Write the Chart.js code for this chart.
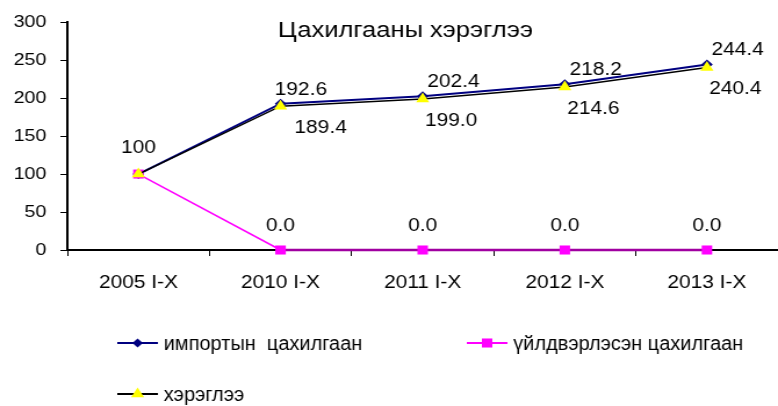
<!DOCTYPE html>
<html>
<head>
<meta charset="utf-8">
<script src="https://cdn.jsdelivr.net/npm/chart.js@4.4.1/dist/chart.umd.min.js"></script>
<style>
    html, body { margin: 0; padding: 0; background: #fff; overflow: hidden; }
    /* the chart is drawn narrow and widened to the page width */
    #chart { display: block; transform-origin: 0 0; transform: scaleX(1.1612); }
</style>
</head>
<body>
<canvas id="chart" width="670" height="406" style="width:670px;height:406px"></canvas>
<script>
// categories and series
const periods = ['2005 I-X', '2010 I-X', '2011 I-X', '2012 I-X', '2013 I-X'];
const importPower = [100, 192.6, 202.4, 218.2, 244.4];
const producedPower = [100, 0, 0, 0, 0];
const consumption = [100, 189.4, 199.0, 214.6, 240.4];
const seriesNames = ['импортын  цахилгаан', 'үйлдвэрлэсэн цахилгаан', 'хэрэглээ'];
const chartTitle = 'Цахилгааны хэрэглээ';

const FONT = '"Liberation Sans", Arial, sans-serif';

// value labels, title and legend are drawn by hand
const extrasPlugin = {
    id: 'extras',
    afterDatasetsDraw(chart) {
        const ctx = chart.ctx;
        ctx.save();
        ctx.fillStyle = '#000';
        ctx.font = '18px ' + FONT;
        ctx.textBaseline = 'middle';

        const metaImp = chart.getDatasetMeta(0);
        const metaProd = chart.getDatasetMeta(1);
        const metaCons = chart.getDatasetMeta(2);

        metaImp.data.forEach((pt, i) => {
            if (i === 0) {
                ctx.textAlign = 'center';
                ctx.fillText(String(importPower[i]), pt.x, pt.y - 26);
                return;
            }
            ctx.textAlign = 'left';
            ctx.fillText(importPower[i].toFixed(1), pt.x + (i === 1 ? -5 : 4), pt.y - 14);
        });
        metaCons.data.forEach((pt, i) => {
            if (i === 0) return;
            ctx.textAlign = 'left';
            ctx.fillText(consumption[i].toFixed(1), pt.x + (i === 1 ? 12 : 2), pt.y + 22);
        });
        metaProd.data.forEach((pt, i) => {
            if (i === 0) return;
            ctx.textAlign = 'center';
            ctx.fillText(producedPower[i].toFixed(1), pt.x, pt.y - 24);
        });

        // title sits inside the plot
        ctx.font = '22px ' + FONT;
        ctx.textAlign = 'center';
        ctx.fillText(chartTitle, 349, 31);

        // legend
        const items = [
            { x: 101, y: 343, color: '#000080', fill: '#000080', style: 'rectRot', r: 4.5 },
            { x: 402, y: 343, color: '#ff00ff', fill: '#ff00ff', style: 'rect', r: 6.4 },
            { x: 101, y: 394, color: '#000000', fill: '#ffff00', style: 'triangle', r: 6.5 }
        ];
        ctx.textAlign = 'left';
        items.forEach((it, i) => {
            ctx.strokeStyle = it.color;
            ctx.lineWidth = 2;
            ctx.beginPath();
            ctx.moveTo(it.x, it.y);
            ctx.lineTo(it.x + 35, it.y);
            ctx.stroke();
            ctx.fillStyle = it.fill;
            ctx.strokeStyle = it.fill;
            Chart.helpers.drawPoint(ctx, { pointStyle: it.style, radius: it.r, borderWidth: 0, rotation: 0 }, it.x + 17.5, it.y);
            // narrow legend lettering
            ctx.save();
            ctx.translate(it.x + 40, it.y + 1);
            ctx.scale(0.86, 1);
            ctx.fillStyle = '#000';
            ctx.font = '20px ' + FONT;
            ctx.fillText(seriesNames[i], 0, 0);
            ctx.restore();
        });
        ctx.restore();
    }
};

new Chart(document.getElementById('chart'), {
    type: 'line',
    data: {
        labels: periods,
        datasets: [
            {
                label: seriesNames[0],
                data: importPower,
                order: 2,
                borderColor: '#000080',
                backgroundColor: '#000080',
                borderWidth: 2,
                pointStyle: 'rectRot',
                pointRadius: 5,
                pointBorderWidth: 0,
                tension: 0,
                clip: false
            },
            {
                label: seriesNames[1],
                data: producedPower,
                order: 1,
                borderColor: '#ff00ff',
                backgroundColor: '#ff00ff',
                borderWidth: 1.5,
                pointStyle: 'rect',
                pointRadius: 6.4,
                pointBorderWidth: 0,
                tension: 0,
                clip: false,
                // line lying on the axis reads darker
                segment: {
                    borderColor: c => (c.p0.parsed.y === 0 && c.p1.parsed.y === 0) ? '#a000a0' : undefined,
                    borderWidth: c => (c.p0.parsed.y === 0 && c.p1.parsed.y === 0) ? 2.5 : undefined
                }
            },
            {
                label: seriesNames[2],
                data: consumption,
                order: 0,
                borderColor: '#000000',
                backgroundColor: '#ffff00',
                pointBorderColor: '#ffff00',
                borderWidth: 1.5,
                pointStyle: 'triangle',
                pointRadius: 6.5,
                pointBorderWidth: 0,
                tension: 0,
                clip: false
            }
        ]
    },
    options: {
        responsive: false,
        maintainAspectRatio: false,
        animation: false,
        devicePixelRatio: 1,
        layout: { autoPadding: false, padding: { top: 22, right: 0, left: 0, bottom: 0 } },
        plugins: {
            legend: { display: false },
            title: { display: false },
            tooltip: { enabled: false }
        },
        scales: {
            x: {
                offset: true,
                grid: { display: true, drawOnChartArea: false, drawTicks: true, tickLength: 6, color: '#000', offset: true },
                border: { display: true, color: '#000', width: 2 },
                ticks: { color: '#000', font: { family: FONT, size: 18 }, padding: 16, maxRotation: 0, autoSkip: false },
                afterFit: s => { s.height = 156; s.paddingLeft = 0; s.paddingRight = 0; }
            },
            y: {
                min: 0,
                max: 300,
                ticks: { stepSize: 50, color: '#000', font: { family: FONT, size: 17 }, padding: 12 },
                grid: { display: true, drawOnChartArea: false, drawTicks: true, tickLength: 6, color: '#000' },
                border: { display: true, color: '#000', width: 2 },
                afterFit: s => { s.width = 58; }
            }
        }
    },
    plugins: [extrasPlugin]
});
</script>
</body>
</html>
